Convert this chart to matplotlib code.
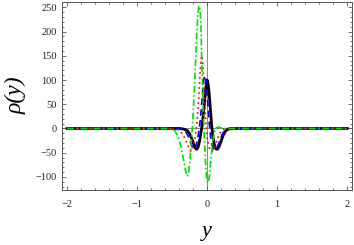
import matplotlib
matplotlib.use("Agg")
import matplotlib.pyplot as plt
from matplotlib.ticker import MultipleLocator, FixedLocator, FixedFormatter

# black solid curve
y_black = [-2.0, -0.40, -0.36, -0.32, -0.28, -0.25, -0.22, -0.19, -0.17, -0.15,
           -0.13, -0.11, -0.09, -0.07, -0.05, -0.03, -0.015, 0.0, 0.015, 0.03,
           0.045, 0.065, 0.085, 0.105, 0.125, 0.145, 0.165, 0.185, 0.205, 0.23,
           0.255, 0.28, 0.31, 0.35, 2.0]
rho_black = [0, 0, -0.5, -2, -5, -11, -21, -33, -40, -43,
             -39, -27, -10, 8, 35, 66, 88, 100, 91, 70,
             42, 5, -20, -35, -42, -43, -39, -32, -24, -14,
             -7, -3, -1, 0, 0]

# blue dashed curve
y_blue = [-2.0, -0.42, -0.38, -0.34, -0.30, -0.27, -0.24, -0.21, -0.185, -0.165,
          -0.145, -0.125, -0.105, -0.085, -0.065, -0.05, -0.035, -0.02, -0.005, 0.01,
          0.03, 0.05, 0.07, 0.09, 0.115, 0.14, 0.165, 0.19, 0.215, 0.24,
          0.27, 0.30, 0.34, 2.0]
rho_blue = [0, 0, -1, -3, -8, -16, -28, -39, -43, -39,
            -28, -12, 8, 38, 75, 98, 109, 102, 80, 50,
            10, -18, -34, -42, -44, -40, -31, -21, -12, -6,
            -2, -0.5, 0, 0]

# red dotted curve
y_red = [-2.0, -0.48, -0.44, -0.40, -0.36, -0.32, -0.28, -0.25, -0.23, -0.21,
         -0.19, -0.17, -0.15, -0.13, -0.11, -0.095, -0.08, -0.065, -0.05, -0.035,
         -0.02, -0.005, 0.015, 0.04, 0.07, 0.095, 0.12, 0.15, 0.18, 0.21,
         0.24, 0.28, 2.0]
rho_red = [0, 0, -1, -4, -10, -20, -33, -43, -47, -44,
           -33, -16, 5, 40, 90, 130, 150, 138, 102, 58,
           18, -12, -33, -44, -47, -43, -33, -20, -10, -4,
           -1.5, 0, 0]

# green dash-dot curve
y_green = [-2.0, -0.54, -0.50, -0.46, -0.42, -0.38, -0.34, -0.31, -0.285, -0.265,
           -0.245, -0.225, -0.21, -0.195, -0.18, -0.165, -0.15, -0.135, -0.122, -0.112,
           -0.10, -0.088, -0.076, -0.064, -0.052, -0.04, -0.025, -0.01, 0.005, 0.02,
           0.035, 0.05, 0.07, 0.09, 0.11, 0.13, 0.16, 0.20, 0.25, 2.0]
rho_green = [0, 0, -1.5, -5, -15, -34, -62, -86, -99, -92,
             -65, -25, 5, 45, 90, 140, 190, 232, 250, 253,
             243, 210, 135, 75, 25, -20, -65, -98, -112, -110,
             -95, -70, -40, -18, -5, 1, 3, 1, 0, 0]

x_ticks = [-2, -1, 0, 1, 2]
x_labels = ["\u22122", "\u22121", "0", "1", "2"]
y_ticks = [-100, -50, 0, 50, 100, 150, 200, 250]
y_labels = ["\u2212100", "\u221250", "0", "50", "100", "150", "200", "250"]

W, H = 354, 245
fig = plt.figure(figsize=(W / 100, H / 100), dpi=100)
ax = fig.add_axes([62.3 / W, 1 - 190 / H, (352 - 62.3) / W, (190 - 1.5) / H])

frame_gray = "#555555"
ax.axhline(0, color="#888888", lw=0.7, zorder=1)
ax.axvline(0, color="#888888", lw=0.7, zorder=1)

ax.plot(y_black, rho_black, color="black", lw=2.0, zorder=2)
ax.plot(y_blue, rho_blue, color="blue", lw=1.2, dashes=(4, 2.5), zorder=3)
ax.plot(y_red, rho_red, color="red", lw=1.2, dashes=(1, 2), zorder=4)
ax.plot(y_green, rho_green, color="#00dd00", lw=1.2, dashes=(4, 1.5, 1, 1.5), zorder=5)

ax.set_xlim(-2.07, 2.07)
ax.set_ylim(-127, 262)

ax.xaxis.set_major_locator(FixedLocator(x_ticks))
ax.xaxis.set_major_formatter(FixedFormatter(x_labels))
ax.xaxis.set_minor_locator(MultipleLocator(0.2))
ax.yaxis.set_major_locator(FixedLocator(y_ticks))
ax.yaxis.set_major_formatter(FixedFormatter(y_labels))
ax.yaxis.set_minor_locator(MultipleLocator(10))

for s in ax.spines.values():
    s.set_color(frame_gray)
    s.set_linewidth(0.7)

ax.tick_params(which="both", direction="in", top=True, right=True,
               color=frame_gray, width=0.6, labelcolor="#222222",
               labelsize=7.5, labelfontfamily="Liberation Serif")
ax.tick_params(which="major", length=3.2)
ax.tick_params(which="minor", length=1.7)
ax.tick_params(axis="x", which="major", pad=7)
ax.tick_params(axis="y", which="major", pad=4)

# axis labels placed by pixel centre
fig.text(207 / W, 1 - 231 / H, "y", fontsize=16, fontstyle="italic",
         family="Liberation Serif", ha="center", va="center")
fig.text(16 / W, 1 - 95 / H, "\u03c1(y)", fontsize=17, fontstyle="italic",
         family="Liberation Serif", ha="center", va="center", rotation=90)

plt.savefig("out.png", dpi=100)
plt.close()
